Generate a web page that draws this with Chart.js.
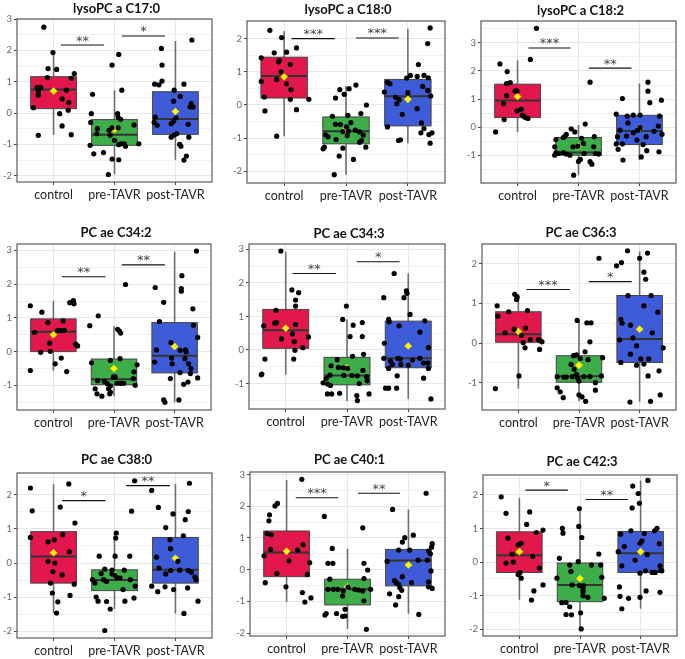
<!DOCTYPE html>
<html><head><meta charset="utf-8">
<script src="https://cdn.jsdelivr.net/npm/chart.js@4.4.1/dist/chart.umd.min.js"></script>
<style>
html,body{margin:0;padding:0;background:#fff;width:685px;height:659px;overflow:hidden;position:relative}
canvas{position:absolute}
</style></head><body>
<script>
const groups = ['control','pre-TAVR','post-TAVR'];
const titles = ['lysoPC a C17:0','lysoPC a C18:0','lysoPC a C18:2','PC ae C34:2','PC ae C34:3','PC ae C36:3','PC ae C38:0','PC ae C40:1','PC ae C42:3'];
const yLimits = [[-2.2,3.0],[-2.35,2.53],[-1.99,3.78],[-1.73,3.19],[-1.76,3.16],[-1.69,2.5],[-2.2,2.64],[-2.09,3.08],[-2.2,2.59]];

// box stats per group: [lower whisker, Q1, median, Q3, upper whisker]
const boxes1 = [[-0.70,0.14,0.75,1.16,1.95],[-1.96,-1.03,-0.69,-0.21,0.73],[-1.49,-0.68,-0.19,0.68,2.30]];
const boxes2 = [[-0.94,0.21,0.87,1.44,2.22],[-2.10,-1.17,-0.79,-0.36,0.57],[-1.15,-0.63,0.26,0.77,2.30]];
const boxes3 = [[-0.17,0.34,0.95,1.53,2.38],[-1.71,-1.0,-0.90,-0.37,0.08],[-1.17,-0.62,-0.14,0.42,1.55]];
const boxes4 = [[-0.57,0.0,0.59,0.97,1.51],[-1.32,-0.98,-0.82,-0.22,0.75],[-1.50,-0.63,-0.12,0.86,2.96]];
const boxes5 = [[-0.74,0.05,0.59,1.21,2.93],[-1.52,-1.04,-0.76,-0.22,0.91],[-1.46,-0.53,-0.25,0.86,2.28]];
const boxes6 = [[-1.15,0.02,0.22,0.79,1.23],[-1.47,-0.99,-0.84,-0.32,0.58],[-1.48,-0.49,0.10,1.20,2.31]];
const boxes7 = [[-1.47,-0.59,0.19,0.92,2.31],[-1.35,-0.81,-0.50,-0.20,0.90],[-1.48,-0.59,-0.20,0.75,2.32]];
const boxes8 = [[-1.02,-0.22,0.54,1.22,2.83],[-1.86,-1.11,-0.62,-0.30,0.66],[-1.39,-0.51,0.29,0.64,1.90]];
const boxes9 = [[-1.12,-0.31,0.20,0.90,1.91],[-1.97,-1.18,-0.68,-0.03,1.59],[-1.39,-0.31,0.26,0.91,2.43]];

// group means (yellow diamonds)
const means1 = [0.70,-0.52,0.05];
const means2 = [0.85,-0.73,0.17];
const means3 = [1.09,-0.68,-0.04];
const means4 = [0.50,-0.50,0.15];
const means5 = [0.65,-0.53,0.12];
const means6 = [0.29,-0.56,0.35];
const means7 = [0.30,-0.35,0.14];
const means8 = [0.58,-0.54,0.15];
const means9 = [0.31,-0.49,0.31];

// significance brackets: [from x, to x, y, label]
const sig1 = [[1.12,1.83,2.17,'**'],[2.12,2.83,2.46,'*']];
const sig2 = [[1.12,1.82,2.0,'***'],[2.16,2.85,2.02,'***']];
const sig3 = [[1.18,1.87,2.82,'***'],[2.17,2.87,2.10,'**']];
const sig4 = [[1.14,1.86,2.22,'**'],[2.13,2.84,2.57,'**']];
const sig5 = [[1.11,1.82,2.28,'**'],[2.16,2.86,2.63,'*']];
const sig6 = [[1.13,1.85,1.35,'***'],[2.16,2.87,1.55,'*']];
const sig7 = [[1.14,1.85,1.83,'*'],[2.19,2.91,2.27,'**']];
const sig8 = [[1.15,1.85,2.27,'***'],[2.17,2.86,2.41,'**']];
const sig9 = [[1.10,1.80,2.14,'*'],[2.09,2.79,1.86,'**']];

// jittered observations per group: [jitter (category units), value]
const pts1 = [
 [[-0.16,2.74],[-0.01,1.93],[-0.09,1.42],[0.05,1.39],[0.34,1.26],[-0.10,1.13],[0.29,1.11],[-0.27,0.82],[-0.21,0.82],[-0.25,0.73],[-0.25,0.65],[-0.25,0.57],[0.21,0.73],[0.14,0.45],[0.25,0.33],[-0.33,0.17],[0.24,0.09],[0.10,-0.02],[0.14,-0.41],[-0.25,-0.71],[0.29,-0.69]],
 [[0.07,1.87],[-0.04,1.53],[0.12,0.73],[-0.36,0.60],[0.05,-0.02],[-0.38,-0.02],[0.06,-0.13],[0.10,-0.20],[-0.39,-0.30],[-0.28,-0.50],[-0.04,-0.47],[-0.09,-0.55],[0.06,-0.47],[0.32,-0.38],[-0.29,-0.66],[-0.07,-0.71],[0.0,-0.87],[0.11,-0.98],[0.16,-0.98],[0.18,-1.06],[0.40,-0.98],[-0.40,-1.03],[0.07,-1.01],[-0.34,-1.30],[-0.18,-1.26],[-0.04,-1.47],[0.07,-1.49],[-0.10,-1.96]],
 [[0.27,2.33],[-0.23,2.06],[-0.22,1.53],[-0.22,1.02],[-0.34,0.92],[-0.27,0.90],[0.14,0.92],[-0.02,0.73],[0.08,0.53],[-0.03,0.38],[0.26,0.30],[0.24,0.19],[0.29,0.19],[-0.33,-0.13],[-0.35,-0.30],[-0.30,-0.39],[-0.07,-0.34],[-0.03,-0.26],[0.01,-0.15],[0.21,-0.36],[0.02,-0.66],[-0.02,-0.70],[-0.07,-0.77],[0.22,-0.77],[0.07,-1.00],[0.09,-1.06],[0.18,-1.37],[0.14,-1.50]]
];
const pts2 = [
 [[-0.23,2.25],[-0.04,2.03],[-0.16,1.57],[0.04,1.59],[0.20,1.72],[-0.37,1.42],[-0.08,1.34],[-0.09,1.30],[0.10,1.22],[-0.05,1.00],[-0.12,0.77],[-0.37,0.71],[0.04,0.64],[0.11,0.46],[-0.32,0.24],[0.10,0.17],[0.40,0.17],[0.20,-0.14],[-0.31,-0.18],[-0.12,-0.94]],
 [[0.16,0.60],[0.05,0.49],[-0.10,0.46],[-0.03,0.32],[-0.17,0.21],[0.33,0.0],[0.24,-0.26],[0.03,-0.31],[-0.22,-0.34],[0.08,-0.53],[-0.17,-0.58],[-0.09,-0.59],[0.01,-0.66],[0.04,-0.79],[0.15,-0.76],[-0.05,-0.80],[0.22,-0.81],[-0.33,-0.90],[0.02,-0.92],[-0.29,-0.96],[0.28,-0.91],[0.25,-1.07],[0.22,-1.12],[-0.16,-1.04],[-0.35,-1.27],[-0.37,-1.32],[0.32,-1.27],[-0.05,-1.30],[-0.11,-1.54],[0.12,-1.64],[-0.19,-2.10]],
 [[0.36,2.32],[0.32,1.85],[0.17,1.22],[0.04,0.89],[-0.02,0.81],[0.15,0.86],[0.26,0.89],[0.33,0.82],[-0.33,0.68],[-0.29,0.64],[0.24,0.56],[0.32,0.44],[-0.38,0.39],[0.0,0.37],[-0.20,0.23],[-0.14,0.16],[-0.18,0.04],[0.37,0.27],[0.15,-0.11],[-0.09,-0.28],[-0.33,-0.66],[0.22,-0.54],[0.26,-0.71],[0.21,-0.84],[0.39,-0.84],[0.34,-0.89],[-0.12,-1.05],[-0.15,-1.07],[0.36,-1.15]]
];
const pts3 = [
 [[0.31,3.52],[-0.29,2.25],[0.21,2.41],[-0.17,1.98],[-0.18,1.55],[-0.12,1.59],[-0.04,1.29],[-0.01,1.29],[-0.18,1.12],[-0.23,0.84],[0.06,0.64],[-0.01,0.58],[0.08,0.43],[0.10,0.39],[0.13,0.34],[0.17,0.31],[-0.22,0.27],[-0.36,-0.17]],
 [[0.19,1.60],[0.11,0.11],[-0.12,-0.06],[-0.06,-0.17],[-0.20,-0.26],[-0.23,-0.34],[-0.25,-0.37],[-0.37,-0.44],[0.05,-0.40],[0.26,-0.34],[0.08,-0.58],[-0.09,-0.70],[-0.39,-0.70],[-0.01,-0.68],[0.25,-0.70],[-0.37,-0.91],[-0.33,-0.94],[-0.25,-0.91],[-0.20,-0.96],[-0.14,-1.00],[-0.39,-1.00],[0.09,-0.94],[0.28,-0.94],[0.33,-0.96],[0.03,-1.15],[0.0,-1.22],[0.19,-1.23],[0.22,-1.32],[-0.08,-1.71]],
 [[0.14,1.60],[0.14,1.28],[0.17,0.87],[0.36,0.96],[-0.28,1.02],[-0.38,0.46],[-0.10,0.43],[-0.20,0.39],[0.01,0.43],[0.33,0.39],[-0.19,0.15],[0.31,0.04],[-0.32,-0.11],[-0.03,-0.11],[0.01,-0.02],[-0.36,-0.34],[-0.21,-0.32],[-0.10,-0.20],[0.24,-0.15],[0.37,-0.25],[0.11,-0.34],[-0.28,-0.60],[-0.38,-0.60],[-0.04,-0.46],[0.06,-0.62],[-0.35,-0.79],[0.12,-0.84],[0.32,-0.88],[0.03,-1.06],[-0.27,-1.17]]
];
const pts4 = [
 [[0.33,1.51],[0.34,1.42],[0.27,1.45],[-0.38,1.36],[-0.19,1.17],[-0.09,0.86],[0.16,0.91],[0.07,0.63],[0.13,0.62],[0.18,0.63],[-0.31,0.57],[0.37,0.22],[0.40,0.17],[-0.06,0.25],[-0.05,0.01],[-0.21,-0.02],[0.13,-0.19],[0.03,-0.36],[0.22,-0.59],[-0.38,-0.56]],
 [[0.19,1.99],[-0.26,1.06],[-0.40,0.77],[0.06,0.66],[0.09,0.61],[0.11,0.55],[-0.37,-0.33],[-0.06,-0.26],[0.10,-0.21],[0.38,-0.39],[0.33,-0.60],[-0.01,-0.75],[0.02,-0.75],[-0.16,-0.88],[-0.27,-0.86],[-0.11,-0.95],[0.05,-0.94],[0.11,-0.94],[0.16,-0.94],[0.32,-0.80],[0.35,-1.00],[-0.06,-1.02],[-0.09,-1.10],[-0.31,-1.10],[-0.06,-1.20],[-0.28,-1.25],[-0.20,-1.32],[-0.07,-1.25]],
 [[0.36,2.98],[0.12,2.25],[0.11,1.87],[0.11,1.79],[-0.32,1.90],[-0.18,1.46],[0.30,1.27],[-0.25,0.89],[0.31,0.78],[0.38,0.42],[-0.06,0.27],[-0.30,0.05],[0.09,0.04],[0.18,0.05],[0.19,-0.01],[-0.05,-0.19],[0.17,-0.21],[-0.33,-0.31],[-0.04,-0.36],[0.23,-0.36],[0.27,-0.50],[0.26,-0.65],[0.09,-0.62],[-0.07,-0.80],[0.38,-0.78],[0.22,-0.90],[0.15,-0.97],[-0.18,-1.43],[-0.16,-1.50],[0.07,-1.43]]
];
const pts5 = [
 [[-0.08,2.95],[0.10,1.79],[0.21,1.71],[0.16,1.49],[0.16,1.31],[-0.16,1.18],[-0.15,0.82],[-0.18,0.80],[0.16,0.76],[-0.36,0.72],[0.11,0.48],[-0.07,0.33],[0.37,0.39],[0.14,0.25],[0.28,0.07],[0.15,-0.01],[-0.34,-0.27],[0.13,-0.27],[-0.40,-0.74],[-0.39,-0.72]],
 [[-0.01,1.31],[-0.07,0.91],[0.10,0.74],[0.25,0.82],[0.05,0.40],[0.25,0.40],[0.09,-0.19],[0.27,-0.13],[-0.16,-0.29],[-0.26,-0.47],[-0.14,-0.52],[-0.06,-0.53],[0.01,-0.55],[0.26,-0.61],[-0.05,-0.76],[-0.28,-0.75],[0.08,-0.76],[-0.34,-0.85],[0.17,-0.77],[0.32,-0.80],[-0.31,-1.02],[-0.39,-0.98],[-0.27,-1.06],[0.20,-1.00],[0.33,-0.92],[-0.32,-1.31],[-0.25,-1.31],[-0.12,-1.29],[0.16,-1.36],[0.36,-1.31],[0.17,-1.51]],
 [[-0.23,2.28],[-0.40,1.56],[-0.07,1.56],[-0.03,1.76],[-0.02,1.69],[0.03,1.06],[-0.32,0.91],[-0.31,0.84],[0.27,0.87],[-0.15,0.72],[0.19,0.53],[-0.39,0.20],[0.33,0.07],[-0.40,-0.25],[-0.29,-0.33],[-0.17,-0.25],[-0.13,-0.27],[0.07,-0.30],[-0.12,-0.43],[-0.26,-0.43],[0.0,-0.45],[0.19,-0.25],[0.25,-0.39],[0.32,-0.39],[0.33,-0.55],[-0.32,-0.55],[-0.18,-0.77],[0.25,-0.84],[-0.37,-1.14],[-0.32,-1.14],[-0.19,-1.14],[0.37,-1.46]]
];
const pts6 = [
 [[-0.06,1.23],[-0.02,1.16],[-0.03,1.10],[-0.35,0.94],[0.15,0.82],[-0.16,0.79],[-0.34,0.68],[-0.07,0.35],[0.12,0.38],[-0.22,0.26],[0.05,0.19],[0.20,0.09],[0.33,0.09],[0.36,0.06],[0.39,0.03],[0.08,0.01],[0.11,-0.12],[0.35,-0.16],[0.01,-0.83],[-0.38,-1.15]],
 [[0.33,2.14],[-0.03,0.57],[0.13,0.51],[0.20,0.51],[0.18,0.03],[0.10,-0.22],[-0.09,-0.32],[-0.04,-0.30],[0.02,-0.39],[0.15,-0.42],[0.39,-0.37],[-0.13,-0.54],[-0.08,-0.66],[-0.36,-0.85],[-0.25,-0.86],[-0.21,-0.86],[-0.11,-0.85],[-0.04,-0.79],[-0.02,-0.89],[0.08,-0.85],[0.18,-0.85],[0.37,-0.83],[0.0,-0.96],[0.27,-1.00],[-0.36,-1.13],[-0.31,-1.23],[0.27,-1.19],[-0.26,-1.38],[0.0,-1.31],[0.05,-1.36],[0.11,-1.47]],
 [[-0.20,2.33],[0.13,2.27],[-0.30,2.03],[-0.38,1.95],[0.0,2.14],[0.07,1.79],[0.10,1.61],[-0.19,1.20],[0.19,1.20],[0.07,0.94],[0.30,0.78],[-0.31,0.60],[-0.29,0.50],[-0.15,0.45],[0.21,0.26],[-0.11,0.13],[-0.33,0.08],[-0.05,-0.07],[0.39,-0.12],[-0.15,-0.28],[-0.31,-0.49],[0.02,-0.40],[0.15,-0.40],[0.07,-0.53],[-0.05,-0.56],[0.14,-0.83],[0.32,-0.70],[0.34,-1.31],[0.18,-1.47],[-0.16,-1.49]]
];
const pts7 = [
 [[-0.38,2.20],[0.25,2.32],[-0.35,1.53],[0.11,1.64],[0.35,1.17],[-0.38,0.75],[0.15,0.83],[0.01,0.68],[-0.09,0.62],[0.26,0.33],[-0.09,0.05],[0.02,0.0],[-0.01,-0.25],[0.14,-0.35],[-0.05,-0.59],[0.34,-0.62],[-0.02,-0.88],[0.27,-0.95],[0.07,-1.14],[0.05,-1.47]],
 [[0.33,2.41],[0.28,1.52],[0.03,0.88],[0.02,0.73],[-0.25,0.20],[0.01,0.20],[0.25,0.20],[0.16,-0.21],[-0.16,-0.18],[-0.22,-0.31],[-0.04,-0.21],[-0.04,-0.32],[0.01,-0.37],[0.04,-0.43],[-0.36,-0.49],[-0.18,-0.49],[0.09,-0.44],[0.26,-0.49],[-0.32,-0.59],[-0.13,-0.54],[0.34,-0.68],[0.14,-0.78],[-0.30,-1.00],[-0.27,-1.12],[-0.13,-1.13],[0.32,-1.03],[0.17,-1.12],[-0.07,-1.35],[-0.16,-1.98]],
 [[0.23,2.34],[-0.39,2.13],[-0.28,1.63],[0.21,1.51],[0.16,1.27],[-0.04,1.44],[-0.16,1.04],[0.13,0.80],[-0.09,0.68],[-0.08,0.42],[-0.31,0.17],[0.04,0.05],[-0.27,-0.15],[-0.16,-0.32],[-0.08,-0.22],[0.07,-0.21],[0.21,-0.22],[0.26,-0.27],[0.32,-0.41],[0.34,-0.49],[-0.39,-0.68],[-0.17,-0.70],[-0.03,-0.78],[0.20,-0.73],[-0.29,-0.84],[0.37,-1.12],[0.14,-1.48]]
];
const pts8 = [
 [[0.25,2.85],[-0.15,2.09],[-0.19,2.01],[-0.28,1.73],[-0.29,1.54],[-0.32,1.14],[-0.25,1.10],[0.27,0.79],[-0.26,0.64],[0.18,0.62],[0.04,0.28],[-0.37,0.44],[-0.16,-0.12],[0.38,0.22],[0.34,-0.15],[-0.35,-0.41],[-0.01,-0.54],[0.26,-0.72],[0.40,-0.89],[0.30,-1.02]],
 [[-0.38,1.68],[0.25,1.32],[-0.25,0.67],[-0.32,0.20],[-0.24,0.20],[0.27,0.20],[0.33,-0.01],[-0.29,-0.30],[0.27,-0.28],[-0.32,-0.62],[-0.23,-0.62],[-0.16,-0.62],[-0.07,-0.67],[0.01,-0.55],[0.12,-0.62],[0.18,-0.64],[0.25,-0.67],[0.38,-0.62],[-0.08,-0.83],[0.27,-0.98],[-0.04,-1.25],[-0.35,-1.38],[-0.37,-1.43],[-0.18,-1.38],[-0.08,-1.47],[-0.04,-1.46],[0.31,-1.88]],
 [[0.29,2.41],[-0.26,1.90],[0.08,1.09],[-0.06,1.01],[-0.10,0.87],[0.39,0.82],[0.38,0.71],[-0.16,0.62],[0.02,0.62],[0.33,0.59],[0.36,0.50],[0.31,0.30],[0.16,0.30],[-0.35,0.26],[0.37,-0.04],[-0.10,-0.22],[-0.23,-0.34],[-0.20,-0.41],[-0.16,-0.47],[-0.14,-0.57],[0.05,-0.41],[0.33,-0.38],[0.33,-0.54],[0.39,-0.59],[-0.11,-0.65],[-0.31,-0.76],[-0.16,-0.85],[-0.21,-1.11],[0.17,-1.41]]
];
const pts9 = [
 [[-0.30,1.94],[-0.22,1.45],[0.17,1.49],[0.12,1.12],[0.28,0.88],[0.39,0.95],[-0.19,0.71],[-0.02,0.51],[0.03,0.56],[-0.12,0.24],[0.22,0.17],[-0.22,-0.03],[-0.10,0.0],[0.33,-0.18],[0.01,-0.31],[-0.02,-0.37],[0.03,-0.48],[0.39,-0.68],[0.24,-0.86],[0.20,-1.13]],
 [[-0.01,1.59],[-0.02,1.06],[-0.29,1.00],[-0.28,0.86],[0.03,0.73],[-0.34,0.11],[0.31,0.24],[-0.17,-0.09],[-0.03,0.01],[0.19,-0.09],[0.34,-0.09],[-0.15,-0.28],[-0.38,-0.48],[0.36,-0.45],[-0.01,-0.70],[0.06,-0.70],[-0.13,-0.68],[0.05,-0.80],[0.05,-0.88],[0.05,-1.00],[0.13,-1.05],[0.40,-1.08],[-0.30,-1.21],[-0.23,-1.20],[-0.17,-1.33],[-0.23,-1.56],[-0.14,-1.57],[0.01,-1.51],[0.02,-1.99]],
 [[0.12,2.43],[-0.13,2.26],[-0.04,2.04],[-0.02,1.75],[-0.14,1.61],[-0.33,0.83],[-0.16,0.93],[0.06,0.85],[0.23,0.93],[0.27,1.00],[0.02,0.63],[-0.01,0.56],[0.31,0.55],[-0.27,0.46],[-0.37,0.31],[0.11,0.22],[-0.09,0.06],[-0.31,-0.11],[0.32,-0.11],[0.33,-0.25],[0.35,-0.26],[-0.01,-0.33],[0.19,-0.31],[0.24,-0.31],[0.08,-0.26],[-0.35,-0.74],[-0.34,-1.02],[-0.20,-1.08],[-0.01,-1.05],[0.09,-0.86],[0.32,-0.90],[-0.31,-1.39]]
];

const allBoxes = [boxes1,boxes2,boxes3,boxes4,boxes5,boxes6,boxes7,boxes8,boxes9];
const allMeans = [means1,means2,means3,means4,means5,means6,means7,means8,means9];
const allSig = [sig1,sig2,sig3,sig4,sig5,sig6,sig7,sig8,sig9];
const allPts = [pts1,pts2,pts3,pts4,pts5,pts6,pts7,pts8,pts9];

// ---- layout (page pixels): plot left, top, right, bottom, title centre y ----
const layout = [
 [17,19,212,182,9],[247,21,445,183,9.5],[481,21,676,183,11],
 [17,244,211,410,233],[249,244,445,409,234],[482,244,676,410,233],
 [17,473,212,638,460],[250,472,445,636,460],[483,475,677,636,462]
];
const FONT = 'Lato, "Open Sans", "Liberation Sans", sans-serif';
const fills = ['#E2174B','#3DAD49','#3E5CD8'];
const PAD_L = 26, PAD_T = 28, PAD_R = 4, PAD_B = 24;

function makePanel(i){
  const [L,T,R,B,TY] = layout[i];
  const w = R-L+PAD_L+PAD_R, h = B-T+PAD_T+PAD_B;
  const cv = document.createElement('canvas');
  cv.width = w; cv.height = h;
  cv.style.left = (L-PAD_L)+'px'; cv.style.top = (T-PAD_T)+'px';
  cv.style.width = w+'px'; cv.style.height = h+'px';
  document.body.appendChild(cv);
  const boxes = allBoxes[i], means = allMeans[i], sig = allSig[i], pts = allPts[i];
  const titleY = TY - (T-PAD_T);

  const boxPlugin = {
    id:'boxes'+i,
    beforeDatasetsDraw(chart){
      const ctx = chart.ctx, xs = chart.scales.x, ys = chart.scales.y;
      ctx.save();
      boxes.forEach((b,g)=>{
        const cx = xs.getPixelForValue(g+1);
        const x0 = xs.getPixelForValue(g+1-0.375), x1 = xs.getPixelForValue(g+1+0.375);
        const yLo = ys.getPixelForValue(b[0]), yQ1 = ys.getPixelForValue(b[1]),
              yMd = ys.getPixelForValue(b[2]), yQ3 = ys.getPixelForValue(b[3]), yHi = ys.getPixelForValue(b[4]);
        ctx.strokeStyle = '#6e6e6e'; ctx.lineWidth = 1.6;
        ctx.beginPath(); ctx.moveTo(cx,yHi); ctx.lineTo(cx,yQ3); ctx.moveTo(cx,yQ1); ctx.lineTo(cx,yLo); ctx.stroke();
        ctx.fillStyle = fills[g];
        ctx.fillRect(x0,yQ3,x1-x0,yQ1-yQ3);
        ctx.strokeStyle = '#444'; ctx.lineWidth = 1;
        ctx.strokeRect(x0,yQ3,x1-x0,yQ1-yQ3);
        ctx.strokeStyle = '#333'; ctx.lineWidth = 2;
        ctx.beginPath(); ctx.moveTo(x0,yMd); ctx.lineTo(x1,yMd); ctx.stroke();
      });
      ctx.restore();
    },
    afterDatasetsDraw(chart){
      const ctx = chart.ctx, xs = chart.scales.x, ys = chart.scales.y, a = chart.chartArea;
      ctx.save();
      sig.forEach(s=>{
        const xa = xs.getPixelForValue(s[0]), xb = xs.getPixelForValue(s[1]), y = ys.getPixelForValue(s[2]);
        ctx.strokeStyle = '#111'; ctx.lineWidth = 1.1;
        ctx.beginPath(); ctx.moveTo(xa,y); ctx.lineTo(xb,y); ctx.stroke();
        ctx.fillStyle = '#444'; ctx.font = '13px "DejaVu Sans", sans-serif'; ctx.textAlign = 'center'; ctx.textBaseline = 'alphabetic';
        ctx.fillText(s[3], (xa+xb)/2, y-0.5);
      });
      ctx.strokeStyle = '#5a5a5a'; ctx.lineWidth = 1.2;
      ctx.strokeRect(a.left, a.top, a.right-a.left, a.bottom-a.top);
      ctx.fillStyle = '#111'; ctx.font = 'bold 13px '+FONT; ctx.textAlign = 'center'; ctx.textBaseline = 'middle';
      ctx.fillText(titles[i], (a.left+a.right)/2 + 2, titleY);
      ctx.restore();
    }
  };

  const datasets = pts.map((grp,g)=>({
    label: groups[g],
    data: grp.map(p=>({x: g+1+p[0], y: p[1]})),
    pointRadius: 2.6, pointBackgroundColor:'#000', pointBorderWidth:0, pointHoverRadius:2.6
  }));
  datasets.push({
    label:'mean',
    data: means.map((m,g)=>({x:g+1, y:m})),
    pointStyle:'rectRot', pointRadius:3.8, pointBackgroundColor:'#FFF200', pointBorderWidth:0
  });

  const isInt = v => Math.abs(v - Math.round(v)) < 1e-6;
  new Chart(cv, {
    type:'scatter',
    data:{datasets},
    options:{
      responsive:false, animation:false, devicePixelRatio:1,
      layout:{padding:{top:PAD_T, right:PAD_R, left:0, bottom:0}},
      plugins:{legend:{display:false}, tooltip:{enabled:false}},
      scales:{
        x:{type:'linear', min:0.4, max:3.6,
           afterFit(s){ s.height = PAD_B; },
           border:{display:false},
           grid:{color:'#e6e6e6', lineWidth:1, tickColor:'#444', tickLength:3, tickWidth:1},
           ticks:{stepSize:1, includeBounds:false, autoSkip:false, maxRotation:0, padding:2,
                  color:'#222', font:{family:FONT, size:12.5},
                  callback:(v)=> groups[v-1] || ''}},
        y:{type:'linear', min:yLimits[i][0], max:yLimits[i][1],
           afterFit(s){ s.width = PAD_L; },
           border:{display:false},
           grid:{color:'#e6e6e6', lineWidth:c=> isInt(c.tick.value)?1:0.6,
                 tickColor:c=> isInt(c.tick.value)?'#444':'rgba(0,0,0,0)', tickLength:3, tickWidth:1},
           ticks:{stepSize:0.5, includeBounds:false, autoSkip:false, padding:2,
                  color:'#666', font:{family:FONT, size:9.5},
                  callback:(v)=> isInt(v) ? String(Math.round(v)) : ''}}
      }
    },
    plugins:[boxPlugin]
  });
}
for (let i=0;i<9;i++) makePanel(i);
</script>
</body></html>
